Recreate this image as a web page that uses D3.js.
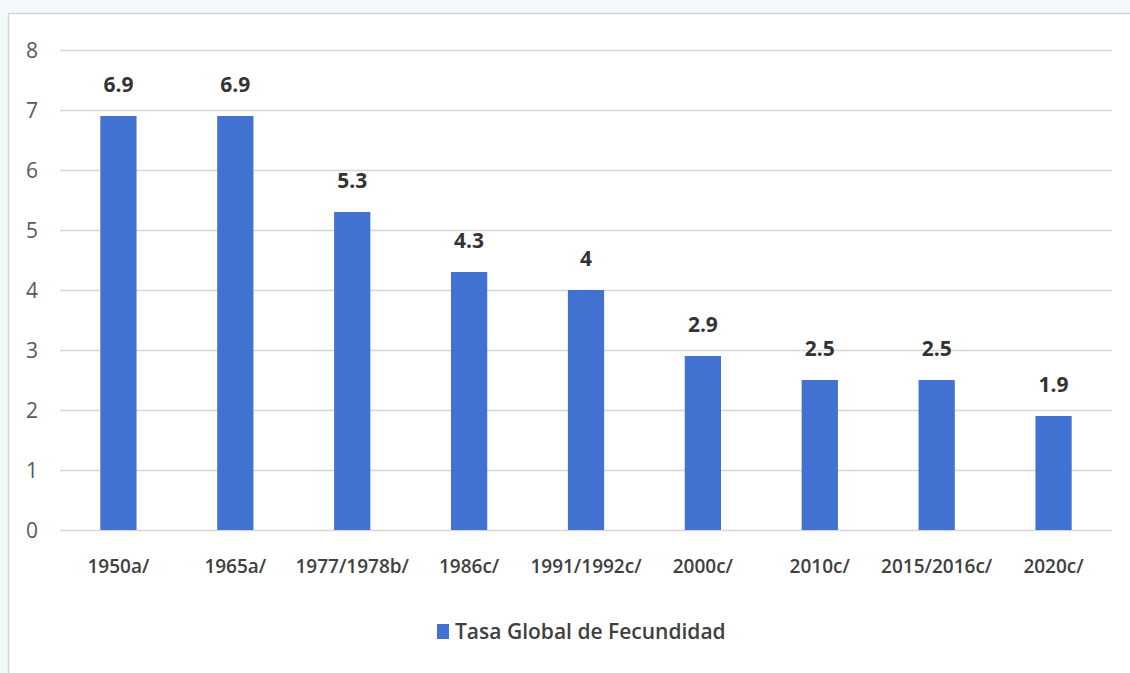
<!DOCTYPE html>
<html>
<head>
<meta charset="utf-8">
<script src="https://cdn.jsdelivr.net/npm/d3@7"></script>
<style>
  body { margin: 0; background: #f4f9fb; }
  svg { display: block; }
</style>
</head>
<body>
<svg></svg>
<script>
var categories = ["1950a/", "1965a/", "1977/1978b/", "1986c/", "1991/1992c/", "2000c/", "2010c/", "2015/2016c/", "2020c/"];
var values = [6.9, 6.9, 5.3, 4.3, 4, 2.9, 2.5, 2.5, 1.9];
var yTicks = [0, 1, 2, 3, 4, 5, 6, 7, 8];
var seriesName = "Tasa Global de Fecundidad";

var width = 1130, height = 673;
var svg = d3.select("svg").attr("width", width).attr("height", height);

// chart frame
svg.append("rect")
    .attr("x", 8.5).attr("y", 13.5)
    .attr("width", width).attr("height", height)
    .attr("fill", "#fff")
    .attr("stroke", "#d4d4d4")
    .attr("stroke-width", 1.5);

var x = d3.scaleBand()
    .domain(categories)
    .range([60, 1112])
    .paddingInner(0.69)
    .paddingOuter(0.345);

var y = d3.scaleLinear()
    .domain([0, 8])
    .range([530, 50]);

// gridlines
svg.append("g")
  .selectAll("line")
  .data(yTicks).enter()
  .append("line")
    .attr("x1", 60).attr("x2", 1112)
    .attr("y1", function(d) { return y(d) + 0.5; })
    .attr("y2", function(d) { return y(d) + 0.5; })
    .attr("stroke", "#d6d6d6")
    .attr("stroke-width", 1.5);

// y labels
svg.append("g")
  .selectAll("text")
  .data(yTicks).enter()
  .append("text")
    .attr("x", 38)
    .attr("y", function(d) { return y(d); })
    .attr("dy", "0.36em")
    .attr("text-anchor", "end")
    .attr("font-family", "'Open Sans', sans-serif")
    .attr("font-size", 21)
    .attr("fill", "#595959")
    .text(function(d) { return d; });

// bars
svg.append("g")
  .selectAll("rect")
  .data(values).enter()
  .append("rect")
    .attr("x", function(d, i) { return x(categories[i]); })
    .attr("y", function(d) { return y(d); })
    .attr("width", x.bandwidth())
    .attr("height", function(d) { return y(0) - y(d); })
    .attr("fill", "#4171d1");

// value labels
svg.append("g")
  .selectAll("text")
  .data(values).enter()
  .append("text")
    .attr("x", function(d, i) { return x(categories[i]) + x.bandwidth() / 2; })
    .attr("y", function(d) { return y(d) - 24; })
    .attr("text-anchor", "middle")
    .attr("font-family", "'Open Sans', sans-serif")
    .attr("font-weight", "bold")
    .attr("font-size", 21)
    .attr("fill", "#333")
    .text(function(d) { return d; });

// x labels
svg.append("g")
  .selectAll("text")
  .data(categories).enter()
  .append("text")
    .attr("x", function(d) { return x(d) + x.bandwidth() / 2; })
    .attr("y", 573)
    .attr("text-anchor", "middle")
    .attr("font-family", "'Open Sans', sans-serif")
    .attr("font-weight", 600)
    .attr("font-size", 19)
    .attr("fill", "#404040")
    .text(function(d) { return d; });

// legend
var legend = svg.append("g").attr("transform", "translate(437,624)");
legend.append("rect")
    .attr("width", 12).attr("height", 15)
    .attr("fill", "#4171d1");
legend.append("text")
    .attr("x", 18).attr("y", 15)
    .attr("font-family", "'Open Sans', sans-serif")
    .attr("font-weight", 600)
    .attr("font-size", 21)
    .attr("fill", "#404040")
    .text(seriesName);
</script>
</body>
</html>
